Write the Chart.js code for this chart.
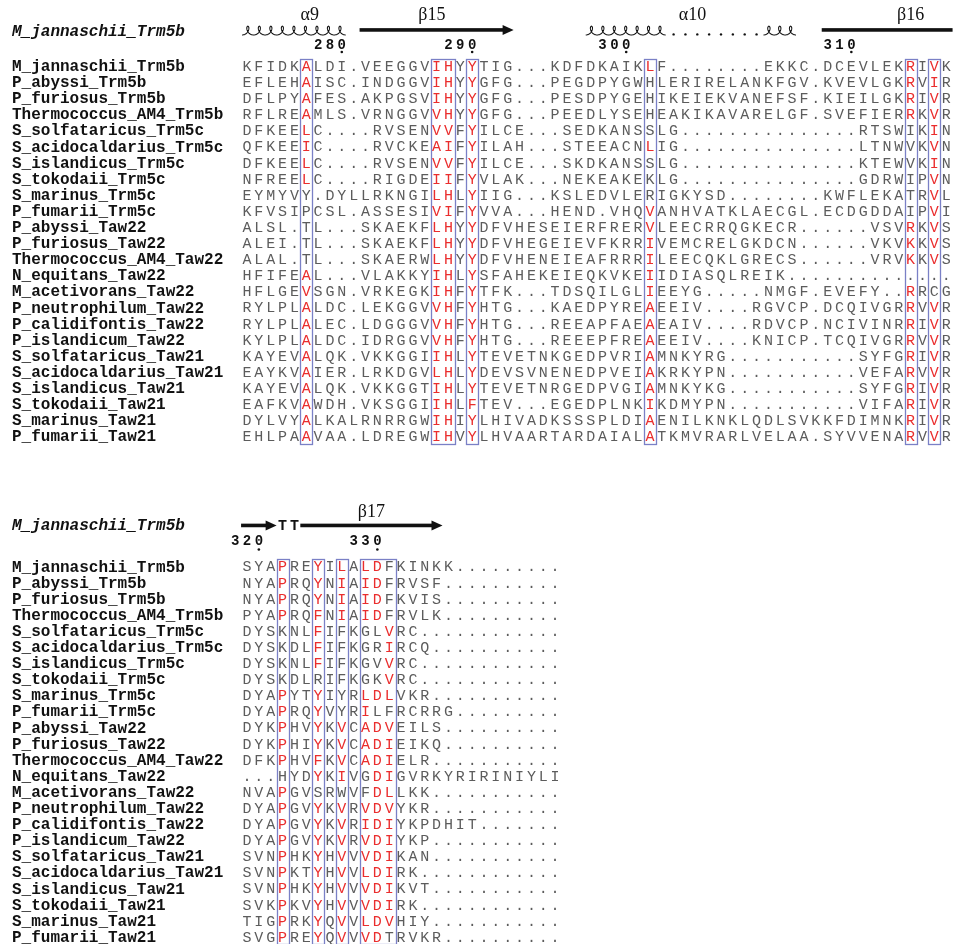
<!DOCTYPE html>
<html>
<head>
<meta charset="utf-8">
<title>Trm5b / Trm5c / Taw22 / Taw21 alignment</title>
<script src="https://cdn.jsdelivr.net/npm/chart.js@4.4.1/dist/chart.umd.min.js"></script>
<style>
  html, body { margin: 0; padding: 0; background: #fff; }
  #wrap { width: 956px; height: 944px; }
</style>
</head>
<body>
<div id="wrap"><canvas id="aln" width="956" height="944"></canvas></div>
<script>
// sequence names, top to bottom
const names = [
  "M_jannaschii_Trm5b", "P_abyssi_Trm5b", "P_furiosus_Trm5b", "Thermococcus_AM4_Trm5b",
  "S_solfataricus_Trm5c", "S_acidocaldarius_Trm5c", "S_islandicus_Trm5c", "S_tokodaii_Trm5c",
  "S_marinus_Trm5c", "P_fumarii_Trm5c", "P_abyssi_Taw22", "P_furiosus_Taw22",
  "Thermococcus_AM4_Taw22", "N_equitans_Taw22", "M_acetivorans_Taw22", "P_neutrophilum_Taw22",
  "P_calidifontis_Taw22", "P_islandicum_Taw22", "S_solfataricus_Taw21", "S_acidocaldarius_Taw21",
  "S_islandicus_Taw21", "S_tokodaii_Taw21", "S_marinus_Taw21", "P_fumarii_Taw21"
];
const refName = "M_jannaschii_Trm5b";

// block 1 : residues 272-318 of M. jannaschii (60 alignment columns)
const block1Seqs = [
  "KFIDKALDI.VEEGGVIHYYTIG...KDFDKAIKLF........EKKC.DCEVLEKRIVK",
  "EFLEHAISC.INDGGVIHYYGFG...PEGDPYGWHLERIRELANKFGV.KVEVLGKRVIR",
  "DFLPYAFES.AKPGSVIHYYGFG...PESDPYGEHIKEIEKVANEFSF.KIEILGKRIVR",
  "RFLREAMLS.VRNGGVVHYYGFG...PEEDLYSEHEAKIKAVARELGF.SVEFIERRKVR",
  "DFKEELC....RVSENVVFYILCE...SEDKANSSLG...............RTSWIKIN",
  "QFKEEIC....RVCKEAIFYILAH...STEEACNLIG...............LTNWVKVN",
  "DFKEELC....RVSENVVFYILCE...SKDKANSSLG...............KTEWVKIN",
  "NFREELC....RIGDEIIFYVLAK...NEKEAKEKLG...............GDRWIPVN",
  "EYMYVY.DYLLRKNGILHLYIIG...KSLEDVLERIGKYSD........KWFLEKATRVL",
  "KFVSIPCSL.ASSESIVIFYVVA...HEND.VHQVANHVATKLAECGL.ECDGDDAIPVI",
  "ALSL.TL...SKAEKFLHYYDFVHESEIERFRERVLEECRRQGKECR......VSVRKVS",
  "ALEI.TL...SKAEKFLHYYDFVHEGEIEVFKRRIVEMCRELGKDCN......VKVKKVS",
  "ALAL.TL...SKAERWLHYYDFVHENEIEAFRRRILEECQKLGRECS......VRVKKVS",
  "HFIFEAL...VLAKKYIHLYSFAHEKEIEQKVKEIIDIASQLREIK..............",
  "HFLGEVSGN.VRKEGKIHFYTFK...TDSQILGLIEEYG.....NMGF.EVEFY..RRCG",
  "RYLPLALDC.LEKGGVVHFYHTG...KAEDPYREAEEIV....RGVCP.DCQIVGRRVVR",
  "RYLPLALEC.LDGGGVVHFYHTG...REEAPFAEAEAIV....RDVCP.NCIVINRRIVR",
  "KYLPLALDC.IDRGGVVHFYHTG...REEEPFREAEEIV....KNICP.TCQIVGRRVVR",
  "KAYEVALQK.VKKGGIIHLYTEVETNKGEDPVRIAMNKYRG...........SYFGRIVR",
  "EAYKVAIER.LRKDGVLHLYDEVSVNENEDPVEIAKRKYPN...........VEFARVVR",
  "KAYEVALQK.VKKGGTIHLYTEVETNRGEDPVGIAMNKYKG...........SYFGRIVR",
  "EAFKVAWDH.VKSGGIIHLFTEV...EGEDPLNKIKDMYPN...........VIFARIVR",
  "DYLVYALKALRNRRGWIHIYLHIVADKSSSPLDIAENILKNKLQDLSVKKFDIMNKRIVR",
  "EHLPAAVAA.LDREGWIHVYLHVAARTARDAIALATKMVRARLVELAA.SYVVENARVVR"
];
// columns (1-based) printed in red, per sequence
const block1Red = [
  [6, 17, 18, 20, 35, 57, 59], [6, 17, 18, 20, 57, 59], [6, 17, 18, 20, 57, 59], [6, 17, 18, 20, 57, 59],
  [6, 17, 18, 20, 59], [6, 17, 18, 20, 35, 59], [6, 17, 18, 20, 59], [6, 17, 18, 20, 59],
  [17, 18, 20, 59], [17, 18, 20, 35, 59], [17, 18, 20, 35, 57, 59], [17, 18, 20, 35, 57, 59],
  [17, 18, 20, 35, 57, 59], [6, 17, 18, 20, 35], [6, 17, 18, 20, 35, 57], [6, 17, 18, 20, 35, 57, 59],
  [6, 17, 18, 20, 35, 57, 59], [6, 17, 18, 20, 35, 57, 59], [6, 17, 18, 20, 35, 57, 59], [6, 17, 18, 20, 35, 57, 59],
  [6, 17, 18, 20, 35, 57, 59], [6, 17, 18, 20, 35, 57, 59], [6, 17, 18, 20, 35, 57, 59], [6, 17, 18, 20, 35, 57, 59]
];
const block1Boxes = [[6, 6], [17, 18], [20, 20], [35, 35], [57, 57], [59, 59]];
const block1Ticks = [{ col: 9, label: "280" }, { col: 20, label: "290" }, { col: 33, label: "300" }, { col: 52, label: "310" }];
const block1Structure = [
  { type: "helix", from: 1, to: 9 },
  { type: "strand", from: 11, to: 23, head: true },
  { type: "helix", from: 30, to: 36 },
  { type: "gap", from: 37, to: 44 },
  { type: "helix", from: 45, to: 47 },
  { type: "strand", from: 50, to: 60, head: false }
];
const block1Labels = [{ text: "α9", col: 6.3 }, { text: "β15", col: 16.6 }, { text: "α10", col: 38.6 }, { text: "β16", col: 57 }];

// block 2 : residues 319-336 (27 alignment columns)
const block2Seqs = [
  "SYAPREYILALDFKINKK.........",
  "NYAPRQYNIAIDFRVSF..........",
  "NYAPRQYNIAIDFKVIS..........",
  "PYAPRQFNIAIDFRVLK..........",
  "DYSKNLFIFKGLVRC............",
  "DYSKDLFIFKGRIRCQ...........",
  "DYSKNLFIFKGVVRC............",
  "DYSKDLRIFKGKVRC............",
  "DYAPYTYIYRLDLVKR...........",
  "DYAPRQYVYRILFRCRRG.........",
  "DYKPHVYKVCADVEILS..........",
  "DYKPHIYKVCADIEIKQ..........",
  "DFKPHVFKVCADIELR...........",
  "...HYDYKIVGDIGVRKYRIRINIYLI",
  "NVAPGVSRWVFDLLKK...........",
  "DYAPGVYKVRVDVYKR...........",
  "DYAPGVYKVRIDIYKPDHIT.......",
  "DYAPGVYKVRVDIYKP...........",
  "SVNPHKYHVVVDIKAN...........",
  "SVNPKTYHVVLDIRK............",
  "SVNPHKYHVVVDIKVT...........",
  "SVKPKVYHVVVDIRK............",
  "TIGPRKYQVVLDVHIY...........",
  "SVGPREYQVVVDTRVKR.........."
];
const block2Red = [
  [4, 7, 9, 11, 12], [4, 7, 9, 11, 12], [4, 7, 9, 11, 12], [4, 7, 9, 11, 12],
  [7, 13], [7, 13], [7, 13], [13],
  [4, 7, 11, 12, 13], [4, 7, 11], [4, 7, 9, 11, 12, 13], [4, 7, 9, 11, 12, 13],
  [4, 7, 9, 11, 12, 13], [7, 9, 12, 13], [4, 12, 13], [4, 7, 9, 11, 12, 13],
  [4, 7, 9, 11, 12, 13], [4, 7, 9, 11, 12, 13], [4, 7, 9, 11, 12, 13], [4, 7, 9, 11, 12, 13],
  [4, 7, 9, 11, 12, 13], [4, 7, 9, 11, 12, 13], [4, 7, 9, 11, 12, 13], [4, 7, 9, 11, 12]
];
const block2Boxes = [[4, 4], [7, 7], [9, 9], [11, 13]];
const block2Ticks = [{ col: 2, label: "320" }, { col: 12, label: "330" }];
const block2Structure = [
  { type: "strand", from: 1, to: 3, head: true },
  { type: "turn", from: 4, to: 5 },
  { type: "strand", from: 6, to: 17, head: true }
];
const block2Labels = [{ text: "β17", col: 11.5 }];

// page geometry (pixels)
const COL_PX = 11.85, FIRST_COL_PX = 247, ROW_PX = 16.1, W = 956, H = 944;
const X_MIN = 1 - FIRST_COL_PX / COL_PX;
const X_MAX = X_MIN + W / COL_PX;

const blocks = [
  { seqs: block1Seqs, red: block1Red, boxes: block1Boxes, ticks: block1Ticks,
    structure: block1Structure, labels: block1Labels, top: 66 / ROW_PX,
    off: { label: -3.17, ss: -2.24, helix: -2.2, num: -1.3, dot: -0.87, ref: -2.1 } },
  { seqs: block2Seqs, red: block2Red, boxes: block2Boxes, ticks: block2Ticks,
    structure: block2Structure, labels: block2Labels, top: 566.5 / ROW_PX,
    off: { label: -3.35, ss: -2.55, helix: -2.5, num: -1.55, dot: -1.06, ref: -2.5 } }
];

// one point per alignment cell
const residuePoints = [];
blocks.forEach((b, bi) => {
  b.seqs.forEach((s, r) => {
    for (let c = 0; c < s.length; c++) {
      residuePoints.push({ x: c + 1, y: b.top + r, ch: s[c], red: b.red[r].includes(c + 1), block: bi });
    }
  });
});

const GREY = "#5c5c5c", RED = "#ea2d2d", BOX = "#7a80c6", INK = "#111";

// cursive loops, one per residue
function drawHelix(ctx, x0, x1, yc, n) {
  const a = (x1 - x0) / (2 * Math.PI * n);
  const bx = 3.4, by = 4.4;
  ctx.beginPath();
  const steps = n * 48;
  for (let i = 0; i <= steps; i++) {
    const t = (i / steps) * 2 * Math.PI * n;
    const x = x0 + a * t + bx * Math.sin(t);
    const y = yc + by * Math.cos(t);
    if (i === 0) ctx.moveTo(x, y); else ctx.lineTo(x, y);
  }
  ctx.stroke();
}

function drawStrand(ctx, x0, x1, y, head) {
  const hl = head ? 11 : 0;
  ctx.fillRect(x0, y - 1.8, x1 - hl - x0 + 0.5, 3.6);
  if (head) {
    ctx.beginPath();
    ctx.moveTo(x1 - hl, y - 5);
    ctx.lineTo(x1, y);
    ctx.lineTo(x1 - hl, y + 5);
    ctx.closePath();
    ctx.fill();
  }
}

const alignmentPlugin = {
  id: "alignment",
  afterDatasetsDraw(chart) {
    const ctx = chart.ctx;
    const xs = chart.scales.x, ys = chart.scales.y;
    const px = v => xs.getPixelForValue(v);
    const py = v => ys.getPixelForValue(v);
    ctx.save();

    blocks.forEach(b => {
      const rows = b.seqs.length;
      // conservation boxes
      ctx.strokeStyle = BOX;
      ctx.lineWidth = 1.3;
      b.boxes.forEach(([c1, c2]) => {
        const x0 = px(c1 - 0.5), x1 = px(c2 + 0.5);
        const y0 = py(b.top - 0.45), y1 = py(b.top + rows - 1 + 0.45);
        ctx.strokeRect(Math.round(x0) + 0.5, Math.round(y0) + 0.5, Math.round(x1 - x0), Math.round(y1 - y0));
      });

      // sequence names
      ctx.fillStyle = INK;
      ctx.textBaseline = "middle";
      ctx.textAlign = "left";
      ctx.font = "bold 16px 'Liberation Mono', monospace";
      names.forEach((n, r) => ctx.fillText(n, 12, py(b.top + r) + 1));
      ctx.font = "italic bold 16px 'Liberation Mono', monospace";
      ctx.fillText(refName, 12, py(b.top + b.off.ref));

      // numbering
      ctx.font = "bold 14px 'Liberation Mono', monospace";
      ctx.textAlign = "center";
      b.ticks.forEach(t => {
        const digits = t.label.split("");
        digits.forEach((d, i) => {
          ctx.fillText(d, px(t.col - (digits.length - 1 - i)), py(b.top + b.off.num));
        });
        ctx.beginPath();
        ctx.arc(px(t.col), py(b.top + b.off.dot), 1.3, 0, Math.PI * 2);
        ctx.fill();
      });

      // secondary structure
      ctx.strokeStyle = INK;
      ctx.lineWidth = 1.1;
      b.structure.forEach(s => {
        const x0 = px(s.from - 0.5), x1 = px(s.to + 0.5);
        if (s.type === "helix") {
          drawHelix(ctx, x0 + 1, x1 - 2, py(b.top + b.off.helix), s.to - s.from + 1);
        } else if (s.type === "strand") {
          drawStrand(ctx, x0, x1, py(b.top + b.off.ss), s.head);
        } else if (s.type === "gap") {
          for (let c = s.from; c <= s.to; c++) {
            ctx.beginPath();
            ctx.arc(px(c), py(b.top + b.off.helix) + 3.8, 1.2, 0, Math.PI * 2);
            ctx.fill();
          }
        } else if (s.type === "turn") {
          ctx.font = "bold 15px 'Liberation Mono', monospace";
          for (let c = s.from; c <= s.to; c++) ctx.fillText("T", px(c), py(b.top + b.off.ss) + 1);
        }
      });
      ctx.font = "18px 'Liberation Serif', serif";
      b.labels.forEach(l => ctx.fillText(l.text, px(l.col), py(b.top + b.off.label)));
    });

    // residues, placed by the dataset's own point elements
    const meta = chart.getDatasetMeta(0);
    const data = chart.data.datasets[0].data;
    ctx.font = "15px 'Liberation Mono', monospace";
    ctx.textAlign = "center";
    ctx.textBaseline = "middle";
    meta.data.forEach((el, i) => {
      const d = data[i];
      ctx.fillStyle = d.red ? RED : GREY;
      ctx.fillText(d.ch, el.x, el.y + 1);
    });
    ctx.restore();
  }
};

new Chart(document.getElementById("aln"), {
  type: "scatter",
  data: {
    datasets: [{
      label: "alignment",
      data: residuePoints,
      pointRadius: 0,
      pointHoverRadius: 0
    }]
  },
  options: {
    responsive: false,
    animation: false,
    events: [],
    layout: { padding: 0 },
    plugins: { legend: { display: false }, tooltip: { enabled: false } },
    scales: {
      x: { type: "linear", min: X_MIN, max: X_MAX, display: false },
      y: { type: "linear", min: 0, max: H / ROW_PX, reverse: true, display: false }
    }
  },
  plugins: [alignmentPlugin]
});
</script>
</body>
</html>
